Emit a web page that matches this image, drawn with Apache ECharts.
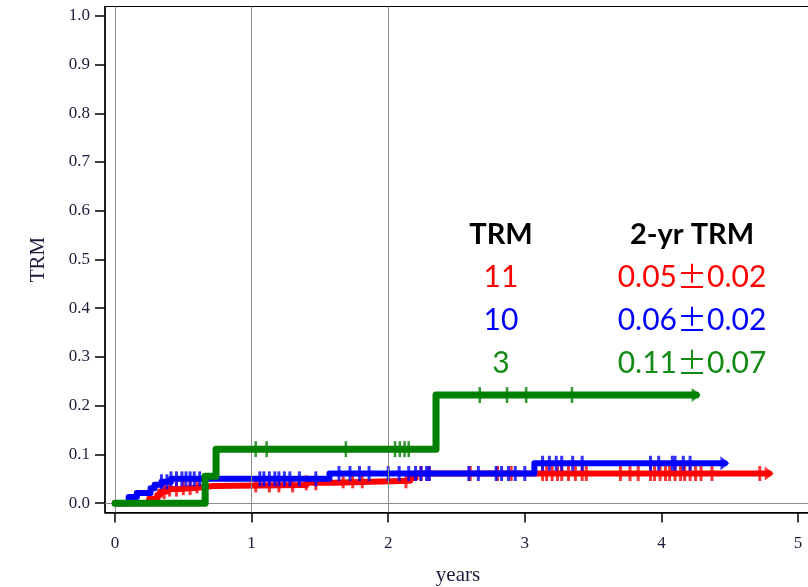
<!doctype html>
<html>
	<head>
		<meta charset="utf-8">
		<title>TRM</title>
		<script type="text/javascript" src="https://cdn.jsdelivr.net/npm/echarts@6/dist/echarts.min.js"></script>
	</head>

	<body style="margin:0;padding:0">
		<div id="tb" style="width:808px;height:587px;"></div>
		<script>
			// 阶梯点: [时间(年), 累计发生率]
			var redSteps = [[0, 0], [0.25, 0.009], [0.31, 0.017], [0.33, 0.024], [0.38, 0.029], [0.47, 0.032], [0.6, 0.0355], [0.72, 0.0375], [1.4, 0.042], [1.6, 0.046], [2.16, 0.052], [2.2, 0.061]];
			var blueSteps = [[0, 0], [0.1, 0.013], [0.16, 0.021], [0.26, 0.031], [0.29, 0.038], [0.34, 0.044], [0.41, 0.05], [1.57, 0.061], [3.07, 0.082]];
			var greenSteps = [[0, 0], [0.66, 0.0556], [0.74, 0.111], [2.35, 0.222]];
			// 随访终点
			var redEnd = 4.79, blueEnd = 4.465, greenEnd = 4.255;
			// 删失时间点
			var redCensor = [0.36, 0.4, 0.45, 0.5, 0.55, 0.6, 1.03, 1.13, 1.2, 1.3, 1.4, 1.47, 1.67, 1.74, 1.81, 2.13, 2.24, 2.3, 2.6, 2.8, 2.9, 3.13, 3.16, 3.2, 3.24, 3.27, 3.32, 3.37, 3.42, 3.45, 3.7, 3.77, 3.83, 3.92, 3.95, 3.99, 4.03, 4.06, 4.1, 4.14, 4.17, 4.21, 4.25, 4.29, 4.37, 4.72];
			var blueCensor = [0.34, 0.38, 0.41, 0.45, 0.49, 0.52, 0.55, 0.58, 0.62, 1.06, 1.09, 1.13, 1.17, 1.2, 1.24, 1.28, 1.35, 1.47, 1.64, 1.72, 1.79, 1.86, 2.0, 2.08, 2.15, 2.2, 2.24, 2.28, 2.3, 2.59, 2.66, 2.79, 2.83, 2.88, 2.93, 3.0, 3.13, 3.18, 3.23, 3.27, 3.35, 3.42, 3.92, 3.98, 4.08, 4.1, 4.16, 4.21];
			var greenCensor = [1.03, 1.11, 1.69, 2.05, 2.085, 2.12, 2.15, 2.67, 2.87, 3.01, 3.345];
			// 坐标刻度
			var xTicks = [0, 1, 2, 3, 4, 5];
			var yTicks = [0, 0.1, 0.2, 0.3, 0.4, 0.5, 0.6, 0.7, 0.8, 0.9, 1.0];
			var refYears = [0, 1, 2];
			// 右侧表格
			var tableHeaders = ['TRM', '2-yr TRM'];
			var trmCounts = [11, 10, 3];
			var trm2yr = [0.05, 0.06, 0.11];
			var trm2yrSe = [0.02, 0.02, 0.07];

			var colors = ['#ff0000', '#0000ff', '#008000'];
			var textColors = ['#ff0000', '#0000ff', '#138a13'];

			function stepAt(steps, t) {
				var v = 0;
				for (var i = 0; i < steps.length; i++) {
					if (steps[i][0] <= t) v = steps[i][1];
				}
				return v;
			}
			function lineData(steps, end) {
				return steps.concat([[end, steps[steps.length - 1][1]]]);
			}
			function censorData(steps, times) {
				return times.map(function(t) { return [t, stepAt(steps, t)]; });
			}

			var groups = [
				{steps: redSteps, end: redEnd, censor: redCensor, width: 6, mark: [3, 15]},
				{steps: blueSteps, end: blueEnd, censor: blueCensor, width: 6, mark: [3, 15]},
				{steps: greenSteps, end: greenEnd, censor: greenCensor, width: 7, mark: [2.5, 16]}
			];

			var series = [{
				type: 'line',
				data: [],
				z: 1,
				silent: true,
				markLine: {
					silent: true,
					symbol: 'none',
					label: {show: false},
					lineStyle: {color: '#8c8c8c', width: 1, type: 'solid'},
					data: refYears.map(function(x) { return {xAxis: x}; }).concat([{yAxis: 0}])
				}
			}];
			groups.forEach(function(g, i) {
				series.push({
					type: 'line',
					step: 'end',
					showSymbol: false,
					z: 3 + i,
					lineStyle: {color: colors[i], width: g.width, cap: 'round', join: 'round'},
					data: lineData(g.steps, g.end)
				});
				series.push({
					type: 'scatter',
					symbol: 'rect',
					symbolSize: g.mark,
					z: 3 + i,
					itemStyle: {color: colors[i]},
					data: censorData(g.steps, g.censor)
				});
				series.push({
					type: 'scatter',
					symbol: 'triangle',
					symbolSize: [14, 9],
					symbolRotate: -90,
					z: 3 + i,
					itemStyle: {color: colors[i]},
					data: [[g.end, stepAt(g.steps, g.end)]]
				});
			});

			var tickFont = {fontFamily: '"Liberation Serif", serif', fontSize: 17, color: '#1c1c3c'};
			var graphics = [];
			var colX = [501, 692];
			tableHeaders.forEach(function(h, j) {
				graphics.push({
					type: 'text', x: colX[j], y: 235,
					style: {text: h, fill: '#000', font: 'bold 29px Lato', align: 'center', verticalAlign: 'middle'}
				});
			});
			trmCounts.forEach(function(n, i) {
				var y = 277 + i * 43;
				graphics.push({
					type: 'text', x: colX[0], y: y,
					style: {text: String(n), fill: textColors[i], font: '30px Lato', align: 'center', verticalAlign: 'middle'}
				});
				graphics.push({
					type: 'text', x: colX[1], y: y,
					style: {
						text: '{n|' + trm2yr[i].toFixed(2) + '}{p|±}{n|' + trm2yrSe[i].toFixed(2) + '}',
						align: 'center', verticalAlign: 'middle',
						rich: {
							n: {fill: textColors[i], fontFamily: 'Lato', fontSize: 30},
							p: {fill: textColors[i], fontFamily: '"Noto Sans CJK SC"', fontSize: 30}
						}
					}
				});
			});

			var chart = echarts.init(document.getElementById('tb'), null, {renderer: 'canvas'});
			chart.setOption({
				animation: false,
				backgroundColor: '#fff',
				grid: {left: 105, right: -3, top: 6.5, bottom: 74.5, show: true, borderColor: '#000', borderWidth: 1, outerBoundsMode: 'none'},
				xAxis: {
					type: 'value', min: -0.0732, max: 5.095,
					name: 'years', nameLocation: 'middle', nameGap: 52,
					nameTextStyle: {fontFamily: '"Liberation Serif", serif', fontSize: 21, color: '#1c1c3c'},
					axisLine: {show: true, onZero: false, lineStyle: {color: '#000', width: 1.5}},
					axisTick: {show: true, length: 10, customValues: xTicks, lineStyle: {color: '#000', width: 1.5}},
					axisLabel: Object.assign({customValues: xTicks, margin: 23}, tickFont),
					splitLine: {show: false}
				},
				yAxis: {
					type: 'value', min: -0.019, max: 1.019,
					name: 'TRM', nameLocation: 'middle', nameGap: 56, nameRotate: 90,
					nameTextStyle: {fontFamily: '"Liberation Serif", serif', fontSize: 21, color: '#1c1c3c'},
					axisLine: {show: true, onZero: false, lineStyle: {color: '#000', width: 1.5}},
					axisTick: {show: true, length: 10, customValues: yTicks, lineStyle: {color: '#000', width: 1.5}},
					axisLabel: Object.assign({customValues: yTicks, margin: 15, formatter: function(v) { return v.toFixed(1); }}, tickFont),
					splitLine: {show: false}
				},
				graphic: graphics,
				series: series
			});
		</script>
	</body>
</html>
